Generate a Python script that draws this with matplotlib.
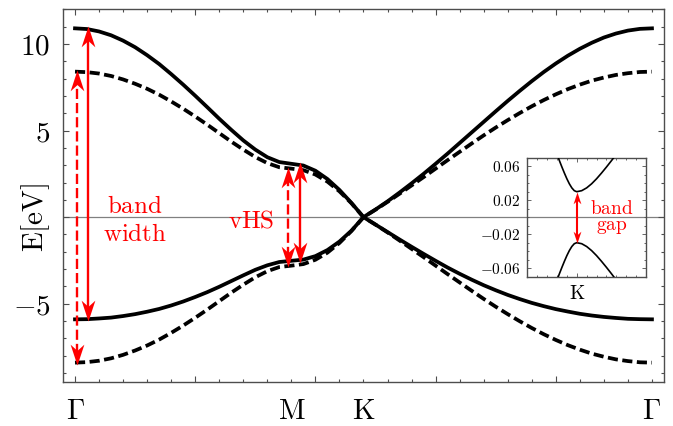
import matplotlib
matplotlib.use('Agg')
import matplotlib.pyplot as plt
from matplotlib.path import Path
from matplotlib.ticker import MultipleLocator, FixedLocator, FixedFormatter, NullFormatter

plt.rcParams['mathtext.fontset'] = 'cm'
plt.rcParams['font.family'] = 'serif'

# ---------------- data ----------------
k = [0.0, 0.5, 1.0, 1.5, 2.0, 2.5, 3.0, 3.5, 4.0, 4.5, 5.0, 5.5, 6.0, 6.5, 7.0, 7.5, 8.0, 8.5, 9.0,
     9.5, 10.0, 10.5, 11.0, 11.5, 12.0,
     12.5, 13.0, 13.5, 14.0, 14.5, 15.0, 15.5, 16.0, 16.5, 17.0, 17.5, 18.0,
     18.5, 19.0, 19.5, 20.0, 20.5, 21.0, 21.5, 22.0, 22.5, 23.0, 23.5, 24.0]

solid_up = [10.90, 10.86, 10.72, 10.50, 10.19, 9.81, 9.35, 8.84, 8.26, 7.65, 7.01, 6.35, 5.68, 5.04,
            4.43, 3.90, 3.46, 3.18, 3.08,
            2.98, 2.68, 2.20, 1.57, 0.82, 0.00,
            0.44, 0.91, 1.42, 1.95, 2.50, 3.08, 3.67, 4.28, 4.89, 5.50, 6.11, 6.71,
            7.29, 7.85, 8.38, 8.87, 9.32, 9.72, 10.07, 10.37, 10.60, 10.77, 10.87, 10.90]
solid_dn = [-5.90, -5.89, -5.85, -5.80, -5.71, -5.60, -5.46, -5.30, -5.10, -4.87, -4.61, -4.33, -4.02,
            -3.69, -3.36, -3.04, -2.78, -2.59, -2.52,
            -2.45, -2.25, -1.90, -1.41, -0.78, 0.00,
            -0.43, -0.86, -1.29, -1.71, -2.12, -2.52, -2.91, -3.27, -3.61, -3.93, -4.22, -4.49,
            -4.73, -4.95, -5.14, -5.31, -5.45, -5.58, -5.68, -5.76, -5.82, -5.87, -5.89, -5.90]
dash_up = [8.40, 8.37, 8.29, 8.15, 7.95, 7.70, 7.41, 7.07, 6.68, 6.26, 5.81, 5.34, 4.85, 4.36,
           3.90, 3.47, 3.12, 2.88, 2.80,
           2.71, 2.46, 2.05, 1.49, 0.80, 0.00,
           0.43, 0.88, 1.35, 1.83, 2.31, 2.80, 3.29, 3.77, 4.25, 4.72, 5.17, 5.60,
           6.01, 6.40, 6.76, 7.09, 7.39, 7.65, 7.88, 8.06, 8.21, 8.31, 8.38, 8.40]
dash_dn = [-8.40, -8.37, -8.29, -8.15, -7.95, -7.70, -7.41, -7.07, -6.68, -6.26, -5.81, -5.34, -4.85,
           -4.36, -3.90, -3.47, -3.12, -2.88, -2.80,
           -2.71, -2.46, -2.05, -1.49, -0.80, 0.00,
           -0.43, -0.88, -1.35, -1.83, -2.31, -2.80, -3.29, -3.77, -4.25, -4.72, -5.17, -5.60,
           -6.01, -6.40, -6.76, -7.09, -7.39, -7.65, -7.88, -8.06, -8.21, -8.31, -8.38, -8.40]

kpoint_pos = [0, 9, 12, 24]
kpoint_labels = [r'$\Gamma$', r'$\mathrm{M}$', r'$\mathrm{K}$', r'$\Gamma$']

ytick_vals = [-5, 0, 5, 10]
ytick_labels = [r'$-5$', '', r'$5$', r'$10$']

# arrows: x position, bottom tip, top tip, style
arrow_x = [0.1, 0.55, 8.85, 9.375]
arrow_bot = [-8.52, -6.02, -2.90, -2.63]
arrow_top = [8.52, 11.02, 2.88, 3.18]
arrow_dashed = [True, False, True, False]

# inset (zoom around K)
inset_k = [11.95, 11.96, 11.965, 11.97, 11.975, 11.98, 11.985, 11.99, 11.995, 12.0,
           12.01, 12.02, 12.03, 12.04, 12.05, 12.06, 12.07, 12.08, 12.09]
inset_up = [0.0898, 0.0741, 0.0664, 0.0590, 0.0519, 0.0452, 0.0393, 0.0345, 0.0312, 0.0300,
            0.0312, 0.0345, 0.0393, 0.0452, 0.0519, 0.0590, 0.0664, 0.0741, 0.0819]
inset_dn = [-0.0898, -0.0741, -0.0664, -0.0590, -0.0519, -0.0452, -0.0393, -0.0345, -0.0312, -0.0300,
            -0.0312, -0.0345, -0.0393, -0.0452, -0.0519, -0.0590, -0.0664, -0.0741, -0.0819]
inset_yticks = [-0.06, -0.02, 0.02, 0.06]
inset_ylabels = [r'$-0.06$', r'$-0.02$', r'$0.02$', r'$0.06$']
gap_top, gap_bot = 0.0300, -0.0300

# ---------------- drawing ----------------
RED = '#ff0000'
FRAME = '#4d4d4d'

up_head = Path([(0, 0), (-0.33, -1), (0, -0.7), (0.33, -1), (0, 0)],
               [Path.MOVETO, Path.LINETO, Path.LINETO, Path.LINETO, Path.CLOSEPOLY])
down_head = Path([(0, 0), (-0.33, 1), (0, 0.7), (0.33, 1), (0, 0)],
                 [Path.MOVETO, Path.LINETO, Path.LINETO, Path.LINETO, Path.CLOSEPOLY])


def varrow(a, x, y0, y1, dashed, ms, lw, shrink, z=5):
    ls = (0, (4.3, 1.7)) if dashed else '-'
    a.plot([x, x], [y0 + shrink, y1 - shrink], color=RED, lw=lw, ls=ls,
           solid_capstyle='butt', dash_capstyle='butt', zorder=z)
    a.plot([x], [y1], marker=up_head, ms=ms, color=RED, mew=0, ls='none', zorder=z + 1)
    a.plot([x], [y0], marker=down_head, ms=ms, color=RED, mew=0, ls='none', zorder=z + 1)


fig = plt.figure(figsize=(6.73, 4.26), dpi=100)
ax = fig.add_axes([0.0936, 0.104, 0.893, 0.8742])

ax.axhline(0, color='#808080', lw=0.9, zorder=1)
ax.plot(k, solid_up, color='black', lw=2.7, zorder=3)
ax.plot(k, solid_dn, color='black', lw=2.7, zorder=3)
ax.plot(k, dash_up, color='black', lw=2.7, ls=(0, (2.7, 1.2)), zorder=3)
ax.plot(k, dash_dn, color='black', lw=2.7, ls=(0, (2.7, 1.2)), zorder=3)

for x, y0, y1, d in zip(arrow_x, arrow_bot, arrow_top, arrow_dashed):
    varrow(ax, x, y0, y1, d, ms=30, lw=1.7, shrink=0.6)

ax.set_xlim(-0.5, 24.5)
ax.set_ylim(-9.5, 12.0)
ax.xaxis.set_major_locator(FixedLocator([0, 5, 10, 15, 20]))
ax.xaxis.set_minor_locator(MultipleLocator(1))
ax.xaxis.set_major_formatter(NullFormatter())
ax.yaxis.set_major_locator(FixedLocator(ytick_vals))
ax.yaxis.set_major_formatter(FixedFormatter(ytick_labels))
ax.yaxis.set_minor_locator(MultipleLocator(1))
ax.tick_params(which='both', direction='in', top=True, right=True, color=FRAME, width=0.8)
ax.tick_params(which='major', length=4.3, labelsize=21, pad=9)
ax.tick_params(which='minor', length=2.5)
for s in ax.spines.values():
    s.set_color(FRAME)
    s.set_linewidth(1.0)

for pos, lab in zip(kpoint_pos, kpoint_labels):
    ax.text(pos, -0.079, lab, transform=ax.get_xaxis_transform(), ha='center', va='center',
            fontsize=21)

ax.text(-0.045, 0, r'$\mathrm{E[eV]}$', transform=ax.get_yaxis_transform(), rotation=90,
        ha='center', va='center', fontsize=21)

ax.text(2.5, 0.25, r'$\mathrm{band}$', color=RED, fontsize=18, ha='center', va='baseline')
ax.text(2.5, -1.37, r'$\mathrm{width}$', color=RED, fontsize=18, ha='center', va='baseline')
ax.text(7.35, -0.62, r'$\mathrm{vHS}$', color=RED, fontsize=18, ha='center', va='baseline')

# inset
axi = fig.add_axes([0.7835, 0.3505, 0.1764, 0.2793])
axi.set_facecolor('white')
axi.axhline(0, color='#808080', lw=0.9, zorder=1)
axi.plot(inset_k, inset_up, color='black', lw=1.2, zorder=3)
axi.plot(inset_k, inset_dn, color='black', lw=1.2, zorder=3)
varrow(axi, 12.0, gap_bot, gap_top, False, ms=17, lw=1.5, shrink=0.006)
axi.set_xlim(11.9, 12.14)
axi.set_ylim(-0.07, 0.07)
axi.xaxis.set_major_locator(FixedLocator([12.0]))
axi.xaxis.set_major_formatter(FixedFormatter([r'$\mathrm{K}$']))
axi.xaxis.set_minor_locator(MultipleLocator(0.02))
axi.yaxis.set_major_locator(FixedLocator(inset_yticks))
axi.yaxis.set_major_formatter(FixedFormatter(inset_ylabels))
axi.yaxis.set_minor_locator(MultipleLocator(0.01))
axi.tick_params(which='both', direction='in', top=True, right=True, color=FRAME, width=0.6)
axi.tick_params(which='major', length=3, labelsize=11)
axi.tick_params(axis='y', which='major', pad=5)
axi.tick_params(axis='x', which='major', labelsize=14, pad=6)
axi.tick_params(which='minor', length=1.5)
for s in axi.spines.values():
    s.set_color(FRAME)
    s.set_linewidth(1.0)
axi.text(12.07, 0.0035, r'$\mathrm{band}$', color=RED, fontsize=14, ha='center', va='baseline')
axi.text(12.07, -0.0145, r'$\mathrm{gap}$', color=RED, fontsize=14, ha='center', va='baseline')

fig.savefig('out.png', dpi=100)
